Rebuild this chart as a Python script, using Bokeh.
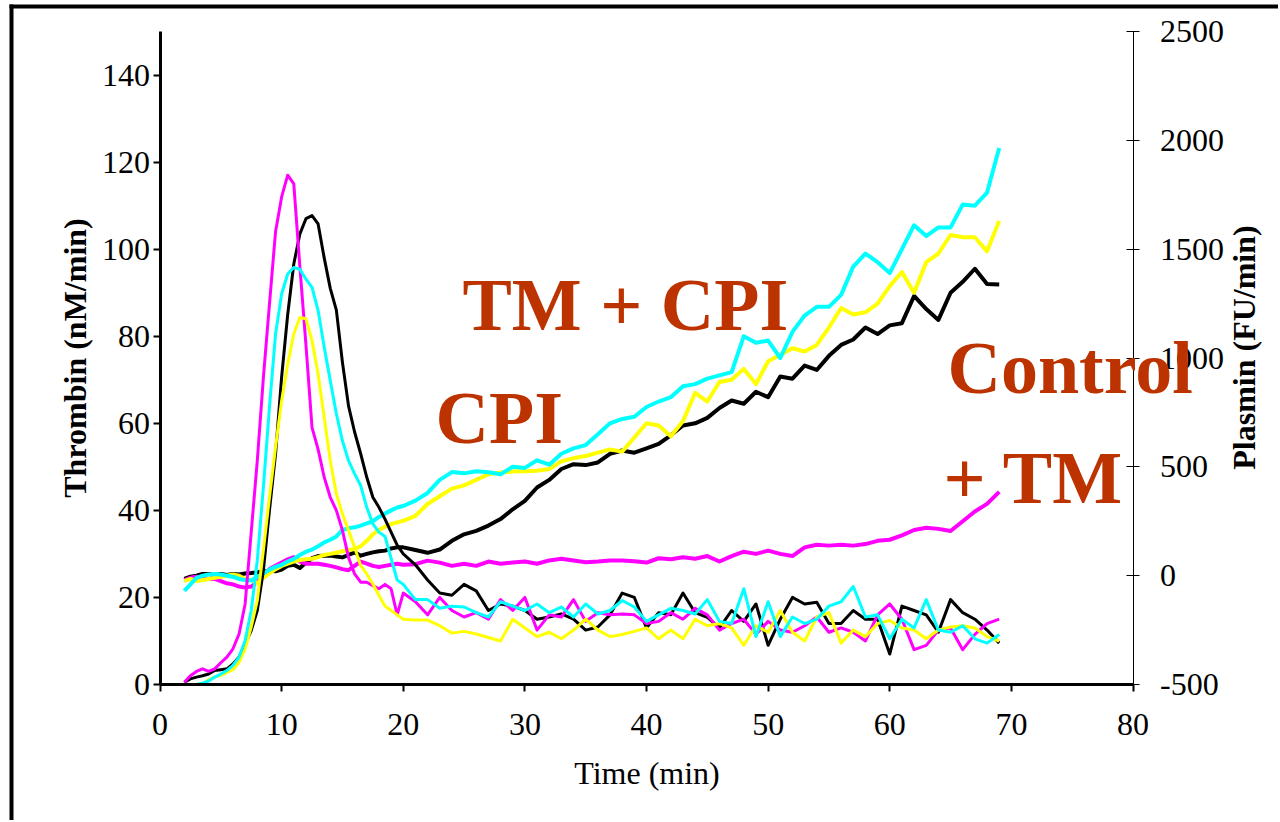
import math
from bokeh.plotting import figure
from bokeh.models import Range1d, LinearAxis, FixedTicker, Label, BoxAnnotation
from bokeh.embed import file_html
from bokeh.resources import INLINE

# ---------------- data ----------------
time = [2, 2.5, 3, 3.5, 4, 4.5, 5, 5.5, 6, 6.5, 7, 7.5, 8, 8.5, 9, 9.5, 10, 10.5,
        11, 11.5, 12, 12.5, 13, 13.5, 14, 14.5, 15, 15.5, 16, 16.5, 17, 17.5, 18,
        18.5, 19, 19.5, 20,
        21, 22, 23, 24, 25, 26, 27, 28, 29, 30, 31, 32, 33, 34, 35, 36, 37, 38, 39,
        40, 41, 42, 43, 44, 45, 46, 47, 48, 49, 50, 51, 52, 53, 54, 55, 56, 57, 58,
        59, 60, 61, 62, 63, 64, 65, 66, 67, 68, 69]

# Thrombin generation (nM/min), left axis
thrombin_control = [0.5, 1.3, 1.7, 2, 2.4, 3.2, 3.4, 3.6, 4.7, 6.3, 9.3, 12.4, 17, 26.2, 40, 53,
                    70.6, 85, 96.6, 103.5, 107, 107.7, 105.8, 98, 91, 86, 74, 64, 58, 53, 47.6,
                    43, 40.7, 38, 35, 32, 30,
                    27.5, 24, 21, 20.5, 23, 21.5, 17, 18.5, 18, 17, 15, 15.5, 16.2, 15, 12.5,
                    13.2, 16, 21, 20, 13, 16.5, 16, 21, 16.5, 15.4, 13, 17, 14.5, 18.5, 9,
                    15, 20, 18.5, 18.9, 14, 14, 17, 15, 15, 7, 18, 17, 16, 12, 19.5, 16.5,
                    15, 12.5, 9.5]
thrombin_tm = [0.5, 2, 3, 3.6, 3, 3.6, 5, 6.3, 8.2, 11.6, 18.5, 35, 51.4, 70.5, 87.4, 104,
               112, 117, 115, 96, 78, 59, 54, 47.6, 43, 40, 35.4, 29.2, 25.4, 23.5, 23.5,
               22.7, 22, 23, 22, 16, 21,
               19, 16, 20, 17, 15.5, 16.5, 15, 19.5, 17, 20, 12.5, 16, 15.5, 19.5, 14.5,
               16.5, 16, 16.2, 16, 14, 14.5, 16.5, 15, 17.5, 16, 12.5, 14, 15, 11.5, 14.5,
               12.5, 12, 13.5, 15.5, 12, 13, 12, 10, 16, 18.5, 15, 8, 9, 12.5, 13, 8,
               11.5, 14, 15]
thrombin_cpi = [0, 0, 0, 0.3, 0.8, 1.7, 2.4, 3.2, 4.4, 6.3, 10.1, 17, 28.5, 45.3, 63.7, 80.5,
                89.7, 94.3, 95.8, 95.4, 93.1, 91.2, 85.9, 77.5, 69.8, 62.2, 56, 51.4, 48.4,
                45.7, 40.7, 36.9, 35, 34, 29, 24, 23,
                19.5, 19.5, 17.5, 18, 17.8, 16.5, 15.5, 19, 18, 17, 18.5, 16.5, 17.8, 15.5,
                18.5, 16.2, 17, 19.3, 17.8, 14.5, 16, 17.5, 17, 16.2, 19.5, 14.5, 14, 22,
                11, 19, 11, 15.5, 14, 15, 18, 19, 22.5, 15.5, 16, 10.5, 15, 13, 19.5, 12.5,
                12, 13.5, 10.5, 9.5, 11.5]
thrombin_tm_cpi = [0, 0, 0, 0.3, 1.1, 1.7, 2.1, 2.8, 3.4, 5.1, 8.2, 13.2, 19.3, 30.8, 43,
                   54.5, 65.2, 73.6, 80.5, 84.3, 84, 79, 71.3, 61.4, 51.4, 43.8, 39.2, 35.4,
                   31.5, 27.3, 25.4, 23.1, 20.5, 18, 17, 16, 15,
                   14.8, 14.8, 13.5, 11.8, 12.2, 11.6, 10.8, 10, 15, 13, 11, 12, 10.5, 12.5,
                   15, 12.5, 11, 11.5, 12.2, 13, 10.5, 12.5, 10.5, 15, 13.5, 14, 13, 9, 13.5,
                   12, 17, 12, 10, 15.5, 16.5, 9.5, 12.5, 11, 14, 14.7, 13, 12.5, 10.5, 12.5,
                   13.2, 13.5, 13, 11, 10]

# Plasmin generation (FU/min), right axis
plasmin_control = [-15, -5, 0, 8, 8, 3, 8, 3, 8, 5, 10, 12, 15, 20, 22, 20, 28, 45, 50, 35,
                   60, 80, 90, 92, 92, 88, 84, 95, 107, 92, 100, 107, 112, 115, 125, 130, 130,
                   118, 105, 120, 160, 190, 206, 230, 260, 305, 344, 405, 440, 490, 512, 508,
                   520, 560, 575, 565, 585, 605, 645, 690, 700, 725, 770, 805, 790, 845, 820,
                   915, 905, 965, 945, 1010, 1060, 1085, 1140, 1110, 1150, 1160, 1285, 1225,
                   1175, 1300, 1350, 1410, 1340, 1338]
plasmin_tm = [-20, -10, -5, -10, -15, -15, -25, -35, -40, -50, -55, -50, -30, 0, 30, 45, 60,
              75, 85, 65, 55, 55, 55, 50, 45, 38, 30, 25, 45, 65, 55, 45, 40, 45, 50, 55, 50,
              53, 69, 60, 45, 55, 45, 65, 55, 60, 65, 55, 70, 78, 70, 62, 65, 70, 70, 66, 60,
              80, 75, 85, 78, 90, 65, 90, 110, 100, 115, 100, 90, 130, 142, 138, 142, 138,
              145, 160, 165, 185, 210, 220, 215, 205, 250, 295, 330, 385]
plasmin_cpi = [-70, -40, -10, 0, 5, 8, 5, 0, -5, -15, -20, -22, -5, 10, 28, 40, 50, 65, 77,
               95, 110, 120, 135, 153, 165, 180, 210, 218, 222, 230, 240, 250, 270, 285, 300,
               313, 320,
               345, 380, 440, 476, 470, 480, 475, 466, 500, 495, 530, 510, 560, 585, 600,
               650, 700, 720, 730, 775, 800, 820, 870, 880, 905, 920, 935, 1100, 1070, 1080,
               1000, 1120, 1195, 1235, 1235, 1290, 1420, 1480, 1440, 1390, 1500, 1610, 1560,
               1600, 1600, 1705, 1700, 1760, 1965]
plasmin_tm_cpi = [-25, -15, -25, -20, -15, -10, -5, 0, 5, 0, -15, -20, -35, -10, 10, 30, 45,
                  55, 65, 72, 75, 78, 85, 95, 100, 105, 112, 118, 122, 135, 160, 190, 210,
                  225, 237, 245, 252,
                  275, 329, 365, 400, 415, 440, 466, 474, 478, 480, 482, 490, 525, 540, 550,
                  565, 580, 570, 635, 700, 690, 640, 710, 840, 800, 890, 900, 950, 880, 985,
                  1015, 1045, 1030, 1060, 1140, 1230, 1200, 1210, 1250, 1330, 1395, 1300,
                  1440, 1480, 1565, 1555, 1555, 1490, 1630]

x_ticks = [0, 10, 20, 30, 40, 50, 60, 70, 80]
thrombin_ticks = [0, 20, 40, 60, 80, 100, 120, 140]
plasmin_ticks = [-500, 0, 500, 1000, 1500, 2000, 2500]
plasmin_tick_labels = ["-500", "0", "500", "1000", "1500", "2000", "2500"]

annotations = ["TM + CPI", "CPI", "Control", "+ TM"]

# ---------------- geometry (pixels of the page) ----------------
SERIF = "Liberation Serif"
ANNOT = "#BC3300"

W, H = 1278, 820                  # canvas at page origin
X0_PX, PX_PER_MIN = 159.5, 973 / 80.0      # t = 0 at x = 159.5 px
Y0_PX, PX_PER_NM = 684.0, 653 / 150.0      # thrombin 0 at y = 684 px
PLASMIN_PER_NM = 3000 / 150.0              # -500..2500 shares the 0..150 span

x_start = -X0_PX / PX_PER_MIN
x_end = (W - X0_PX) / PX_PER_MIN
y_start = (Y0_PX - H) / PX_PER_NM
y_end = Y0_PX / PX_PER_NM

def px_x(px):
    return (px - X0_PX) / PX_PER_MIN

def px_y(py):
    return (Y0_PX - py) / PX_PER_NM

p = figure(width=W, height=H, output_backend="svg", toolbar_location=None,
           x_range=Range1d(x_start, x_end), y_range=Range1d(y_start, y_end),
           min_border_left=0, min_border_right=0, min_border_top=0, min_border_bottom=0)
p.extra_y_ranges = {"plasmin": Range1d(-500 + PLASMIN_PER_NM * y_start,
                                       -500 + PLASMIN_PER_NM * y_end)}
p.outline_line_color = None
p.xgrid.visible = False
p.ygrid.visible = False
p.background_fill_color = "white"
p.border_fill_color = "white"

# page frame: thick black bars along the top and the left
p.add_layout(BoxAnnotation(left=px_x(9), right=px_x(13), top=px_y(4), bottom=y_start,
                           fill_color="black", fill_alpha=1, line_color=None))
p.add_layout(BoxAnnotation(left=px_x(9), right=x_end, top=px_y(4), bottom=px_y(8),
                           fill_color="black", fill_alpha=1, line_color=None))

# bottom axis at thrombin = 0
xa = p.xaxis[0]
xa.fixed_location = 0
xa.ticker = FixedTicker(ticks=x_ticks)
xa.bounds = (0, 80)
xa.axis_label = "Time (min)"
xa.axis_label_text_font = SERIF
xa.axis_label_text_font_style = "normal"
xa.axis_label_text_font_size = "32px"
xa.axis_label_text_color = "black"
xa.axis_label_standoff = 17
xa.major_label_text_font = SERIF
xa.major_label_text_font_size = "32px"
xa.major_label_text_color = "black"
xa.major_label_standoff = 22
xa.axis_line_width = 3
xa.major_tick_line_width = 2
xa.major_tick_in = 0
xa.major_tick_out = 7
xa.minor_tick_line_color = None

# left axis at t = 0
ya = p.yaxis[0]
ya.fixed_location = 0
ya.ticker = FixedTicker(ticks=thrombin_ticks)
ya.bounds = (0, 150)
ya.axis_label = "Thrombin (nM/min)"
ya.axis_label_text_font = SERIF
ya.axis_label_text_font_style = "bold"
ya.axis_label_text_font_size = "32px"
ya.axis_label_text_color = "black"
ya.axis_label_standoff = 7
ya.major_label_text_font = SERIF
ya.major_label_text_font_size = "32px"
ya.major_label_text_color = "black"
ya.major_label_standoff = 3
ya.axis_line_width = 3
ya.major_tick_line_width = 2
ya.major_tick_in = 0
ya.major_tick_out = 7
ya.minor_tick_line_color = None

# right axis at t = 80 min
ra = LinearAxis(y_range_name="plasmin", ticker=FixedTicker(ticks=plasmin_ticks),
                fixed_location=80, bounds=(-500, 2500))
ra.major_label_overrides = {t: s for t, s in zip(plasmin_ticks, plasmin_tick_labels)}
ra.major_label_text_font = SERIF
ra.major_label_text_font_size = "32px"
ra.major_label_text_color = "black"
ra.major_label_standoff = 21
ra.axis_line_width = 1
ra.major_tick_line_width = 1
ra.major_tick_in = 7
ra.major_tick_out = 6
ra.minor_tick_line_color = None
p.add_layout(ra, "right")

p.add_layout(Label(x=px_x(1243), y=px_y(347), text="Plasmin (FU/min)", angle=math.pi / 2,
                   text_align="center", text_baseline="middle", text_font=SERIF,
                   text_font_style="bold", text_font_size="32px", text_color="black"))

# plasmin curves (right axis)
for ys, col in [(plasmin_control, "black"), (plasmin_tm, "#FF00FF"),
                (plasmin_tm_cpi, "#FFFF00"), (plasmin_cpi, "#00FFFF")]:
    p.line(time, ys, y_range_name="plasmin", line_color=col, line_width=4,
           line_join="round")

# thrombin curves (left axis)
for ys, col in [(thrombin_control, "black"), (thrombin_tm, "#FF00FF"),
                (thrombin_tm_cpi, "#FFFF00"), (thrombin_cpi, "#00FFFF")]:
    p.line(time, ys, line_color=col, line_width=3, line_join="round")

# annotations (anchored at the centre of the capitals)
for txt, px, py in [(annotations[0], 462, 304), (annotations[1], 435, 417),
                    (annotations[2], 947, 367.5), (annotations[3], 943, 477.5)]:
    p.add_layout(Label(x=px_x(px), y=px_y(py), text=txt, text_align="left",
                       text_baseline="middle", text_font=SERIF,
                       text_font_style="bold", text_font_size="74px",
                       text_color=ANNOT))

open("out.html", "w").write(file_html(p, INLINE))
